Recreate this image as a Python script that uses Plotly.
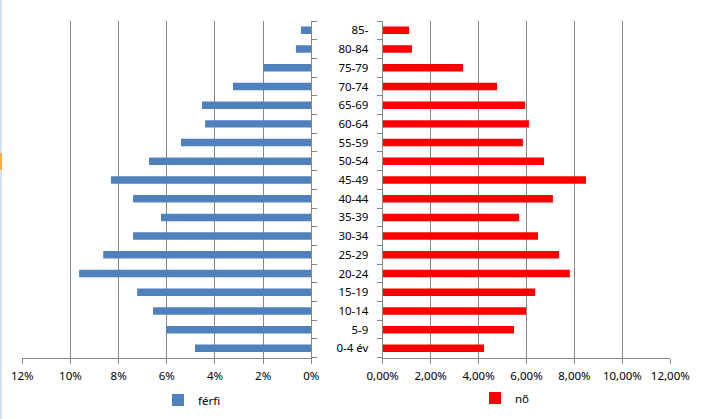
import plotly.graph_objects as go

categories = ["0-4 év", "5-9", "10-14", "15-19", "20-24", "25-29", "30-34", "35-39",
              "40-44", "45-49", "50-54", "55-59", "60-64", "65-69", "70-74", "75-79",
              "80-84", "85-"]
male_pct = [4.83, 6.03, 6.57, 7.23, 9.64, 8.64, 7.40, 6.24,
            7.40, 8.32, 6.74, 5.41, 4.41, 4.54, 3.25, 1.98, 0.64, 0.43]
female_pct = [4.23, 5.48, 5.98, 6.36, 7.81, 7.36, 6.48, 5.69,
              7.10, 8.48, 6.73, 5.85, 6.10, 5.94, 4.77, 3.35, 1.22, 1.10]
male_label = "férfi"
female_label = "nő"
tick_vals = [0, 0.02, 0.04, 0.06, 0.08, 0.10, 0.12]

male_frac = [v / 100 for v in male_pct]
female_frac = [v / 100 for v in female_pct]

W, H = 716, 419
def px(x):
    return x / W
def py(y):
    return 1 - y / H

font = dict(family="Noto Sans, Open Sans, Liberation Sans, sans-serif", size=11.5, color="#000000")
grid = "#868686"

fig = go.Figure()
fig.add_trace(go.Bar(y=categories, x=male_frac, orientation="h", name=male_label,
                     marker=dict(color="#4f81bd", line=dict(width=0)),
                     xaxis="x", yaxis="y", legend="legend", showlegend=True))
fig.add_trace(go.Bar(y=categories, x=female_frac, orientation="h", name=female_label,
                     marker=dict(color="#ff0000", line=dict(width=0)),
                     xaxis="x2", yaxis="y2", legend="legend2", showlegend=True))

common_x = dict(tickmode="array", tickvals=tick_vals, showgrid=True, gridcolor=grid,
                gridwidth=1, showline=True, linecolor=grid, ticks="outside", ticklen=5,
                tickcolor=grid, zeroline=False, fixedrange=True, automargin=False,
                tickfont=font, ticklabelstandoff=2)
common_y = dict(type="category", categoryorder="array", categoryarray=categories,
                range=[-0.5, 17.5], showline=True, linecolor=grid, ticks="outside",
                ticklen=5, tickcolor=grid, tickson="boundaries", showgrid=False,
                automargin=False, zeroline=False, fixedrange=True, tickfont=font)

fig.update_layout(
    template="none",
    width=W, height=H,
    margin=dict(l=0, r=0, t=0, b=0, autoexpand=False),
    paper_bgcolor="white", plot_bgcolor="white",
    font=font,
    separators=", ",
    bargap=0.6,
    showlegend=True,
    xaxis=dict(common_x, domain=[px(22.3), px(311.3)], range=[0.12, 0],
               tickformat=".0%", anchor="y"),
    yaxis=dict(common_y, domain=[py(357.7), py(21)], side="right",
               showticklabels=False, anchor="x"),
    xaxis2=dict(common_x, domain=[px(382.7), px(670.3)], range=[0, 0.12],
                tickformat=".2%", anchor="y2"),
    yaxis2=dict(common_y, domain=[py(357.7), py(21)], side="left",
                showticklabels=True, anchor="x2", ticklabelstandoff=11),
    legend=dict(x=px(158), y=py(400), xanchor="left", yanchor="middle",
                bgcolor="rgba(0,0,0,0)", font=font, borderwidth=0),
    legend2=dict(x=px(475), y=py(398), xanchor="left", yanchor="middle",
                 bgcolor="rgba(0,0,0,0)", font=font, borderwidth=0),
    shapes=[
        dict(type="line", xref="paper", yref="paper", x0=px(1), x1=px(1), y0=0, y1=1,
             line=dict(color="#a9c3e4", width=1)),
        dict(type="line", xref="paper", yref="paper", x0=px(1), x1=px(1),
             y0=py(170), y1=py(153), line=dict(color="#f6b04a", width=2)),
    ],
)

fig.write_html("out.html", config={"displayModeBar": False, "staticPlot": True},
               post_script="document.body.style.margin='0';document.body.style.overflow='hidden';")
